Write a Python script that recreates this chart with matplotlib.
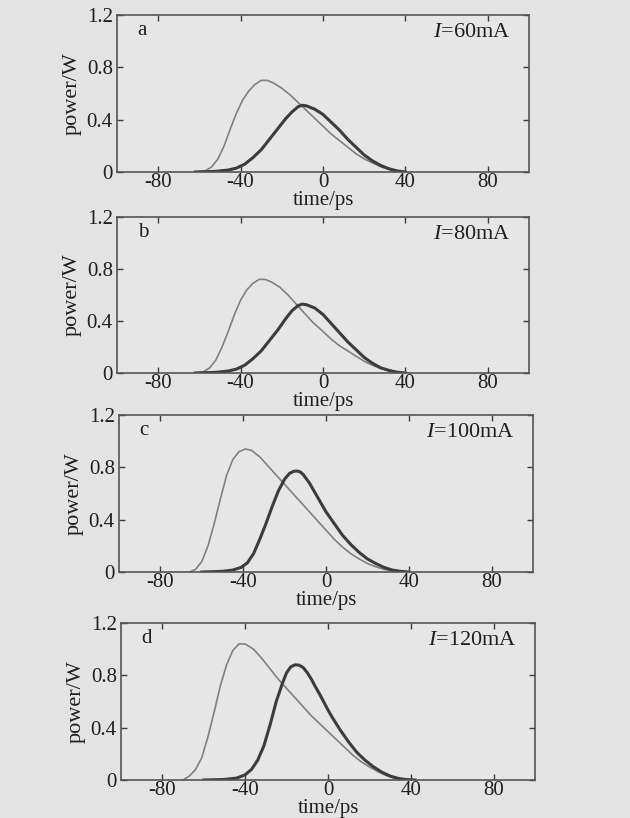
import numpy as np
import matplotlib
matplotlib.use("Agg")
import matplotlib.pyplot as plt

# pulse shapes (time in ps, power in W)
currents = ["60", "80", "100", "120"]
letters = ["a", "b", "c", "d"]

t_in_a = [-62, -57, -54, -51, -48, -45, -42, -39, -36, -33, -30, -27, -24, -20, -16, -12, -8, -4, 0, 4, 8, 12, 16, 20, 24, 28, 32, 36, 40]
p_in_a = [0, 0.01, 0.04, 0.10, 0.20, 0.33, 0.45, 0.55, 0.62, 0.67, 0.70, 0.70, 0.68, 0.64, 0.59, 0.53, 0.47, 0.41, 0.35, 0.29, 0.24, 0.19, 0.14, 0.10, 0.07, 0.04, 0.02, 0.007, 0]
t_out_a = [-62, -52, -46, -42, -38, -34, -30, -26, -22, -18, -15, -12, -10, -8, -4, 0, 4, 8, 12, 16, 20, 24, 28, 32, 36, 40]
p_out_a = [0, 0.005, 0.015, 0.03, 0.06, 0.11, 0.17, 0.25, 0.33, 0.41, 0.46, 0.50, 0.51, 0.505, 0.48, 0.44, 0.38, 0.32, 0.25, 0.19, 0.13, 0.085, 0.05, 0.025, 0.008, 0]

t_in_b = [-62, -58, -55, -52, -49, -46, -43, -40, -37, -34, -31, -28, -25, -21, -17, -13, -9, -5, 0, 4, 8, 12, 16, 20, 24, 28, 32, 36, 40]
p_in_b = [0, 0.01, 0.04, 0.10, 0.20, 0.32, 0.45, 0.56, 0.64, 0.69, 0.72, 0.72, 0.70, 0.66, 0.60, 0.53, 0.46, 0.39, 0.32, 0.26, 0.21, 0.17, 0.13, 0.09, 0.06, 0.035, 0.018, 0.006, 0]
t_out_b = [-62, -52, -46, -42, -38, -34, -30, -26, -22, -18, -15, -12, -10, -8, -4, 0, 4, 8, 12, 16, 20, 24, 28, 32, 36, 40]
p_out_b = [0, 0.005, 0.015, 0.03, 0.06, 0.11, 0.17, 0.25, 0.33, 0.42, 0.48, 0.52, 0.53, 0.525, 0.50, 0.45, 0.38, 0.31, 0.24, 0.18, 0.12, 0.075, 0.04, 0.02, 0.006, 0]

t_in_c = [-66, -63, -60, -57, -54, -51, -48, -45, -42, -39, -36, -32, -28, -24, -20, -16, -12, -8, -4, 0, 4, 8, 12, 16, 20, 24, 28, 32, 36, 40]
p_in_c = [0, 0.02, 0.08, 0.20, 0.37, 0.56, 0.74, 0.86, 0.92, 0.94, 0.93, 0.88, 0.81, 0.74, 0.67, 0.60, 0.53, 0.46, 0.39, 0.32, 0.25, 0.19, 0.14, 0.10, 0.065, 0.04, 0.02, 0.008, 0.002, 0]
t_out_c = [-60, -50, -45, -41, -38, -35, -32, -29, -26, -23, -20, -17.5, -15.5, -14, -12.5, -11, -8, -4, 0, 4, 8, 12, 16, 20, 24, 28, 32, 36, 40]
p_out_c = [0, 0.005, 0.015, 0.035, 0.07, 0.14, 0.25, 0.37, 0.50, 0.62, 0.71, 0.755, 0.77, 0.772, 0.765, 0.745, 0.68, 0.57, 0.46, 0.37, 0.28, 0.21, 0.15, 0.10, 0.065, 0.035, 0.015, 0.005, 0]

t_in_d = [-70, -67, -64, -61, -58, -55, -52, -49, -46, -43, -40, -36, -32, -28, -24, -20, -16, -12, -8, -4, 0, 4, 8, 12, 16, 20, 24, 28, 32, 36, 40]
p_in_d = [0, 0.03, 0.08, 0.17, 0.33, 0.52, 0.72, 0.88, 0.99, 1.04, 1.04, 1.00, 0.93, 0.85, 0.77, 0.70, 0.63, 0.56, 0.49, 0.43, 0.37, 0.31, 0.25, 0.19, 0.14, 0.10, 0.065, 0.035, 0.015, 0.005, 0]
t_out_d = [-60, -50, -44, -40, -37, -34, -31, -28, -25, -22, -20, -18, -16, -14, -12, -10, -8, -6, -4, -2, 0, 2, 6, 10, 14, 18, 22, 26, 30, 34, 38, 42]
p_out_d = [0, 0.004, 0.015, 0.04, 0.08, 0.15, 0.26, 0.42, 0.60, 0.74, 0.82, 0.865, 0.88, 0.878, 0.86, 0.82, 0.77, 0.71, 0.655, 0.595, 0.535, 0.48, 0.38, 0.29, 0.21, 0.15, 0.10, 0.06, 0.03, 0.012, 0.003, 0]

inputs = [(t_in_a, p_in_a), (t_in_b, p_in_b), (t_in_c, p_in_c), (t_in_d, p_in_d)]
outputs = [(t_out_a, p_out_a), (t_out_b, p_out_b), (t_out_c, p_out_c), (t_out_d, p_out_d)]

x_ticks = [-80, -40, 0, 40, 80]
y_ticks = [0, 0.4, 0.8, 1.2]
y_ticklabels = ["0", "0.4", "0.8", "1.2"]

plt.rcParams["font.family"] = ["Liberation Serif", "DejaVu Serif"]
plt.rcParams["mathtext.fontset"] = "custom"
plt.rcParams["mathtext.it"] = "Liberation Serif:italic"
plt.rcParams["mathtext.rm"] = "Liberation Serif"

paper = "#e3e3e3"
ink = "#3c3c3c"
txt = "#1f1f1f"

fig = plt.figure(figsize=(6.3, 8.18), dpi=100, facecolor=paper)

# axes boxes in pixels (left, top, right, bottom) measured on the scan
boxes = [(117, 15, 529, 172), (117, 217, 529, 373), (119, 415, 533, 572), (121, 623, 535, 780)]

for i, (l, t, r, b) in enumerate(boxes):
    ax = fig.add_axes([l / 630, 1 - b / 818, (r - l) / 630, (b - t) / 818])
    ax.set_facecolor("#e6e6e6")

    ax.plot(*inputs[i], color="#808080", lw=1.2)
    ax.plot(*outputs[i], color=ink, lw=2.2)

    ax.set_xlim(-100, 100)
    ax.set_ylim(0, 1.2)
    ax.set_xticks(x_ticks)
    ax.set_xticklabels([str(v) for v in x_ticks])
    ax.set_yticks(y_ticks)
    ax.set_yticklabels(y_ticklabels)
    ax.tick_params(direction="in", top=True, right=True, length=4, width=1,
                   color=ink, labelsize=15, labelcolor=txt, pad=1)
    ax.tick_params(axis="y", pad=3)
    for s in ax.spines.values():
        s.set_color("#555555")
        s.set_linewidth(1.2)

    ax.set_xlabel("time/ps", fontsize=15, color=txt)
    ax.xaxis.set_label_coords(0.5, -0.12)
    ax.set_ylabel("power/W", fontsize=16, color=txt)
    ax.yaxis.set_label_coords(-0.085, 0.5)

    ax.text(0.05, 0.90, letters[i], transform=ax.transAxes, fontsize=15,
            ha="left", va="center", color=txt)
    ax.text(0.955, 0.89, r"$I$=" + currents[i] + "mA", transform=ax.transAxes,
            fontsize=16, ha="right", va="center", color=txt)

fig.savefig("out.png", dpi=100, facecolor=paper)
